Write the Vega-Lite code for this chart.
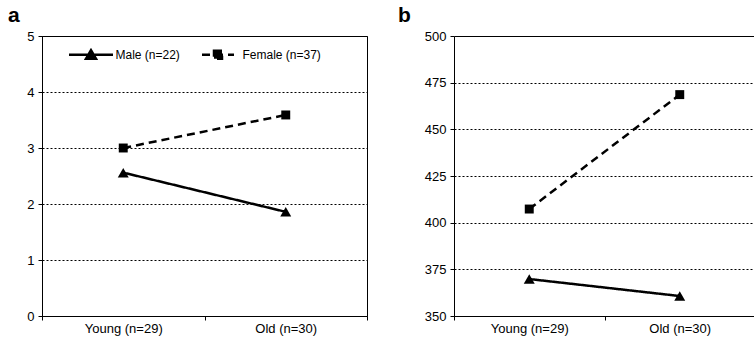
{
  "$schema": "https://vega.github.io/schema/vega-lite/v6.json",
  "padding": {"left": 7, "top": 4, "right": 0, "bottom": 2},
  "spacing": 30,
  "config": {
    "font": "Liberation Sans",
    "view": {"stroke": "black", "strokeWidth": 1},
    "axis": {"labelFont": "Liberation Sans", "labelFontSize": 13, "labelColor": "black", "domainColor": "black", "tickColor": "black", "gridColor": "black", "gridDash": [2, 2], "gridOpacity": 1, "gridWidth": 1, "tickSize": 4, "title": null},
    "title": {"font": "Liberation Sans", "fontSize": 21, "fontWeight": "bold", "color": "black", "anchor": "start", "frame": "group"},
    "legend": {"orient": "none", "direction": "horizontal", "title": null, "labelFont": "Liberation Sans", "labelFontSize": 12, "labelColor": "black", "symbolSize": 400, "symbolStrokeWidth": 2.5, "symbolStrokeColor": "black", "symbolFillColor": "black", "labelOffset": 13, "columnPadding": 16}
  },
  "data": {"values": [
    {"panel": "a", "sex": "Male (n=22)", "age": "Young (n=29)", "value": 2.56},
    {"panel": "a", "sex": "Male (n=22)", "age": "Old (n=30)", "value": 1.86},
    {"panel": "a", "sex": "Female (n=37)", "age": "Young (n=29)", "value": 3.0},
    {"panel": "a", "sex": "Female (n=37)", "age": "Old (n=30)", "value": 3.59},
    {"panel": "b", "sex": "Male (n=22)", "age": "Young (n=29)", "value": 369.8},
    {"panel": "b", "sex": "Male (n=22)", "age": "Old (n=30)", "value": 360.7},
    {"panel": "b", "sex": "Female (n=37)", "age": "Young (n=29)", "value": 407.3},
    {"panel": "b", "sex": "Female (n=37)", "age": "Old (n=30)", "value": 468.6}
  ]},
  "hconcat": [
    {
      "width": 325,
      "height": 280,
      "title": {"text": "a", "dx": -34},
      "transform": [{"filter": "datum.panel === 'a'"}],
      "encoding": {
        "x": {"field": "age", "type": "nominal", "sort": ["Young (n=29)", "Old (n=30)"], "scale": {"type": "band", "paddingInner": 0, "paddingOuter": 0}, "axis": {"labelAngle": 0, "tickBand": "extent", "labelPadding": 2}},
        "y": {"field": "value", "type": "quantitative", "scale": {"domain": [0, 5]}, "axis": {"values": [0, 1, 2, 3, 4, 5], "grid": true, "labelPadding": 4}}
      },
      "layer": [
        {
          "mark": {"type": "line", "color": "black", "strokeWidth": 2.5},
          "encoding": {
            "strokeDash": {"field": "sex", "type": "nominal", "scale": {"domain": ["Male (n=22)", "Female (n=37)"], "range": [[1, 0], [8, 5]]},
              "legend": {"legendX": 37.5, "legendY": 7, "encode": {"symbols": {"update": {"shape": {"signal": "datum.value === 'Male (n=22)' ? 'M-2.2,0H2.2M-0.5,0.4L0,-0.45L0.5,0.4Z' : 'M-1.6,0H1.6M-0.4,-0.4H0.4V0.4H-0.4Z'"}, "fill": {"value": "black"}, "stroke": {"value": "black"}}}}}}
          }
        },
        {
          "transform": [{"filter": "datum.sex === 'Male (n=22)'"}],
          "mark": {"type": "point", "filled": true, "color": "black", "opacity": 1, "size": 120, "shape": "triangle-up"}
        },
        {
          "transform": [{"filter": "datum.sex === 'Female (n=37)'"}],
          "mark": {"type": "point", "filled": true, "color": "black", "opacity": 1, "size": 80, "shape": "square"}
        }
      ]
    },
    {
      "width": 301,
      "height": 280,
      "view": {"stroke": null},
      "title": {"text": "b", "dx": -56},
      "transform": [{"filter": "datum.panel === 'b'"}],
      "encoding": {
        "x": {"field": "age", "type": "nominal", "sort": ["Young (n=29)", "Old (n=30)"], "scale": {"type": "band", "paddingInner": 0, "paddingOuter": 0}, "axis": {"labelAngle": 0, "tickBand": "extent", "labelPadding": 2}},
        "y": {"field": "value", "type": "quantitative", "scale": {"domain": [350, 500]}, "axis": {"values": [350, 375, 400, 425, 450, 475, 500], "grid": true, "labelPadding": 4, "gridDash": {"condition": {"test": "datum.value === 500", "value": []}, "value": [2, 2]}}}
      },
      "layer": [
        {
          "mark": {"type": "line", "color": "black", "strokeWidth": 2.5},
          "encoding": {
            "strokeDash": {"field": "sex", "type": "nominal", "scale": {"domain": ["Male (n=22)", "Female (n=37)"], "range": [[1, 0], [8, 5]]},
              "legend": {"legendX": 37, "legendY": 7, "encode": {"symbols": {"update": {"shape": {"signal": "datum.value === 'Male (n=22)' ? 'M-2.2,0H2.2M-0.5,0.4L0,-0.45L0.5,0.4Z' : 'M-1.6,0H1.6M-0.4,-0.4H0.4V0.4H-0.4Z'"}, "fill": {"value": "black"}, "stroke": {"value": "black"}}}}}}
          }
        },
        {
          "transform": [{"filter": "datum.sex === 'Male (n=22)'"}],
          "mark": {"type": "point", "filled": true, "color": "black", "opacity": 1, "size": 120, "shape": "triangle-up"}
        },
        {
          "transform": [{"filter": "datum.sex === 'Female (n=37)'"}],
          "mark": {"type": "point", "filled": true, "color": "black", "opacity": 1, "size": 80, "shape": "square"}
        }
      ]
    }
  ]
}
